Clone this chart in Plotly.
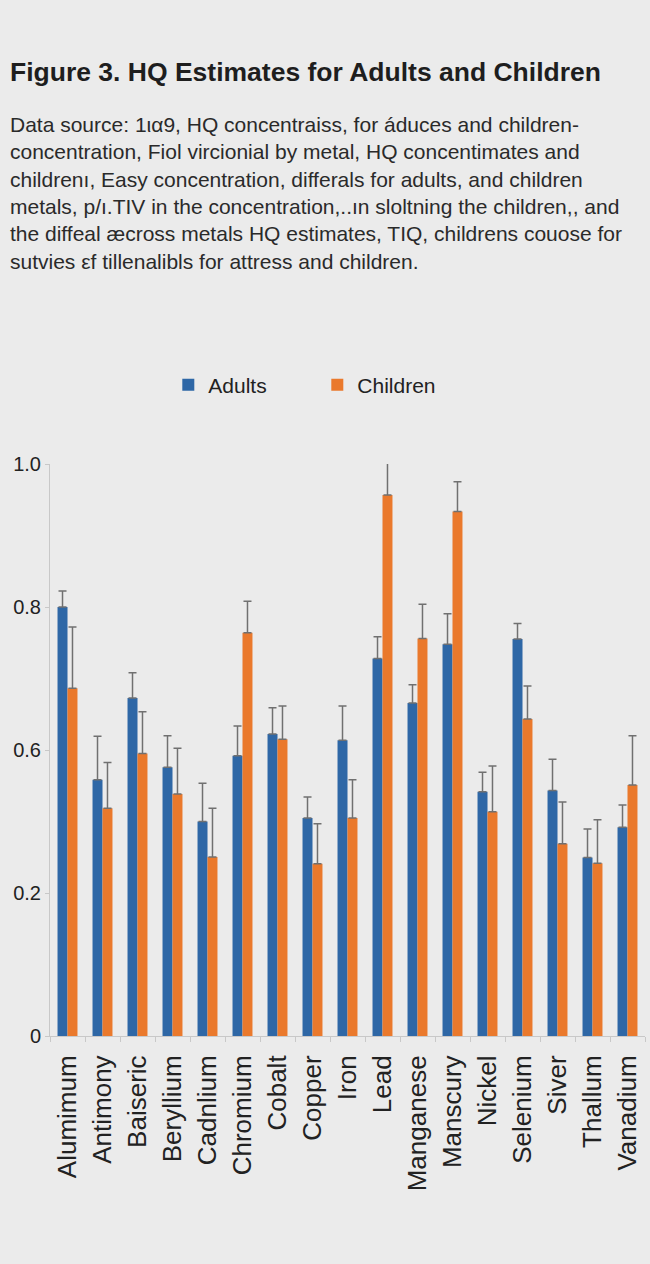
import plotly.graph_objects as go

categories = ["Alumimum", "Antimony", "Baiseric", "Beryllium", "Cadnlium", "Chromium",
              "Cobalt", "Copper", "Iron", "Lead", "Manganese", "Manscury", "Nickel",
              "Selenium", "Siver", "Thallum", "Vanadium"]

adults = [0.750, 0.448, 0.591, 0.470, 0.375, 0.490, 0.528, 0.381, 0.517,
          0.660, 0.582, 0.685, 0.427, 0.694, 0.429, 0.312, 0.365]
adults_err = [0.028, 0.076, 0.044, 0.055, 0.067, 0.052, 0.046, 0.037, 0.060,
              0.038, 0.032, 0.053, 0.034, 0.027, 0.055, 0.050, 0.039]
children = [0.608, 0.398, 0.494, 0.423, 0.313, 0.705, 0.519, 0.301, 0.381,
            0.946, 0.695, 0.917, 0.392, 0.554, 0.336, 0.302, 0.439]
children_err = [0.107, 0.080, 0.073, 0.080, 0.085, 0.055, 0.058, 0.070, 0.067,
                0.061, 0.060, 0.052, 0.080, 0.058, 0.073, 0.076, 0.086]

tick_vals = [0, 0.25, 0.5, 0.75, 1.0]
tick_text = ["0", "0.2", "0.6", "0.8", "1.0"]

title_text = "Figure 3. HQ Estimates for Adults and Children"
subtitle_lines = [
    "Data source: 1\u03b9\u03b19, HQ concentraiss, for \u00e1duces and children-",
    "concentration, Fiol vircionial by metal, HQ concentimates and",
    "children\u0131, Easy concentration, differals for adults, and children",
    "metals, p/\u0131.TIV in the concentration,..\u0131n sloltning the children,, and",
    "the diffeal \u00e6cross metal\u0455 HQ estimates, TIQ, childrens couose for",
    "sutvies \u03b5f tillenalibls for attress and children.",
]

FONT = "Liberation Sans, Arial, sans-serif"
BG = "#ebebeb"
BLUE = "#2e67a6"
ORANGE = "#ea792c"

fig = go.Figure()
fig.add_trace(go.Bar(
    name="Adults", x=categories, y=adults, marker_color=BLUE, marker_line_width=0,
    error_y=dict(type="data", array=adults_err, arrayminus=[0] * len(adults_err),
                 symmetric=False, color="#707070", thickness=1.5, width=4),
    cliponaxis=False,
))
fig.add_trace(go.Bar(
    name="Children", x=categories, y=children, marker_color=ORANGE, marker_line_width=0,
    error_y=dict(type="data", array=children_err, arrayminus=[0] * len(children_err),
                 symmetric=False, color="#707070", thickness=1.5, width=4),
    cliponaxis=False,
))

W, H = 650, 1264
L, R, T, B = 49.5, 4.5, 464, 228
pw, ph = W - L - R, H - T - B

def px_x(x):
    return (x - L) / pw

def px_y(y):
    return (H - B - y) / ph

fig.update_layout(
    width=W, height=H,
    margin=dict(l=L, r=R, t=T, b=B, autoexpand=False),
    paper_bgcolor=BG, plot_bgcolor=BG,
    barmode="group", bargap=0.43, bargroupgap=0,
    showlegend=True,
    title=dict(text="<b>" + title_text + "</b>", x=10 / W, xref="container", xanchor="left",
               y=1 - 72 / H, yref="container", yanchor="middle",
               font=dict(family=FONT, size=26.5, color="#1e1e1e")),
    legend=dict(orientation="h", x=px_x(168), y=px_y(385), xanchor="left", yanchor="middle",
                font=dict(family=FONT, size=21, color="#222222"),
                bgcolor="rgba(0,0,0,0)", entrywidth=104, entrywidthmode="pixels",
                traceorder="normal"),
    xaxis=dict(showline=True, linecolor="#c8c8c8", linewidth=1, ticks="outside",
               tickson="boundaries", ticklen=5, tickcolor="#c8c8c8", tickangle=-90,
               ticklabelstandoff=8,
               tickfont=dict(family=FONT, size=26, color="#222222"), showgrid=False),
    yaxis=dict(range=[0, 1.0], tickvals=tick_vals, ticktext=tick_text, showgrid=False,
               zeroline=False, showline=True, linecolor="#c8c8c8", linewidth=1,
               ticks="outside", ticklen=4, tickcolor="#c8c8c8",
               tickfont=dict(family=FONT, size=20, color="#222222")),
    annotations=[dict(
        text="<br>".join(subtitle_lines), xref="paper", yref="paper",
        x=px_x(7), y=px_y(111), xanchor="left", yanchor="top", align="left",
        showarrow=False, font=dict(family=FONT, size=21, color="#2a2a2a"),
    )],
)

fig.write_html("out.html", config={"displayModeBar": False},
               post_script="document.body.style.margin='0';document.body.style.background='" + BG + "';")
